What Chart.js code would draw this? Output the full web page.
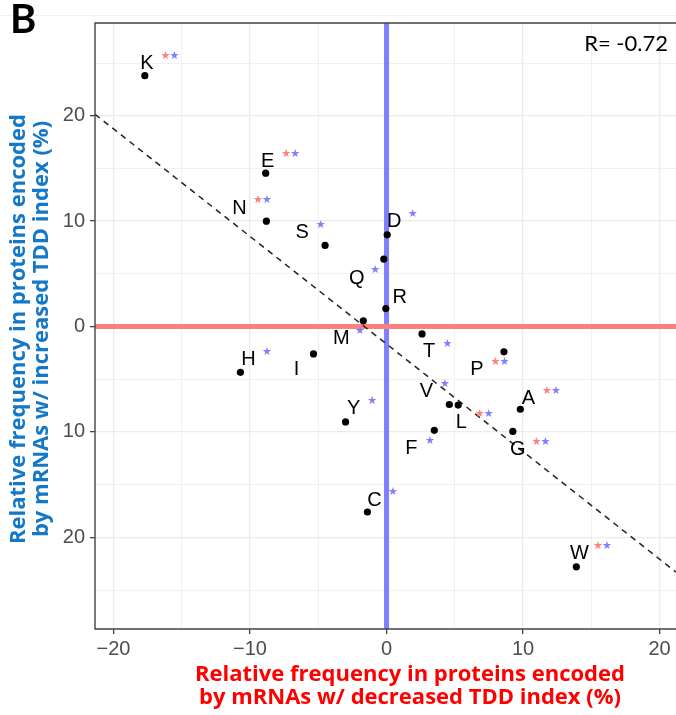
<!DOCTYPE html>
<html>
<head>
<meta charset="utf-8">
<script src="https://cdn.jsdelivr.net/npm/chart.js@4.4.1/dist/chart.umd.min.js"></script>
<style>
  html, body { margin: 0; padding: 0; background: #fff; }
  canvas { display: block; }
</style>
</head>
<body>
<canvas id="tddChart" width="676" height="715"></canvas>
<script>
// amino acids and their relative frequency changes (%)
const aminoAcids = ['K', 'E', 'N', 'S', 'D', 'Q', 'R', 'M', 'T', 'P', 'I', 'H', 'V', 'L', 'A', 'Y', 'F', 'G', 'C', 'W'];
const decreasedFreq = [-17.7, -8.85, -8.8, -4.5, 0.05, -0.2, -0.05, -1.7, 2.6, 8.6, -5.35, -10.7, 4.6, 5.25, 9.8, -3.0, 3.5, 9.25, -1.4, 13.9];
const increasedFreq = [23.8, 14.55, 10.0, 7.7, 8.7, 6.4, 1.7, 0.55, -0.7, -2.4, -2.6, -4.35, -7.4, -7.45, -7.85, -9.05, -9.85, -9.95, -17.6, -22.8];
const significance = ['**', '**', '**', '*', '*', '*', '', '*', '*', '**', '', '*', '*', '**', '**', '*', '*', '**', '*', '**'];

// fitted regression line (end points at the panel edges)
const fitX = [-21.35, 21.2];
const fitY = [20.14, -23.3];

const xTicks = [-20, -15, -10, -5, 0, 5, 10, 15, 20];
const yTicks = [-25, -20, -15, -10, -5, 0, 5, 10, 15, 20, 25];
const corrText = 'R= -0.72';

// label placement (pixels from the point), like ggrepel put them
const labelOffsets = [
  [2, -14], [2, -14], [-27, -15], [-23, -15], [7, -15], [-27, 17], [14, -13], [-22, 16], [7, 16], [-27, 16],
  [-17, 14], [8, -15], [-23, -15], [3, 15], [8, -13], [8, -15], [-23, 16], [5, 16], [7, -14], [3, -15]
];

const points = aminoAcids.map((a, i) => ({ x: decreasedFreq[i], y: increasedFreq[i] }));
const fitLine = fitX.map((v, i) => ({ x: v, y: fitY[i] }));

const tickFont = { family: 'Liberation Sans', size: 20 };
const fmt = v => (v < 0 ? '\u2212' + Math.abs(v) : String(v));

const decor = {
  id: 'decor',
  beforeDatasetsDraw(chart) {
    const { ctx, chartArea: a, scales: { x, y } } = chart;
    ctx.save();
    ctx.lineWidth = 5;
    const x0 = x.getPixelForValue(0);
    ctx.strokeStyle = '#7F7FFF';
    ctx.beginPath(); ctx.moveTo(x0, a.top); ctx.lineTo(x0, a.bottom); ctx.stroke();
    const y0 = y.getPixelForValue(0);
    ctx.strokeStyle = '#FF7F7F';
    ctx.beginPath(); ctx.moveTo(a.left, y0); ctx.lineTo(a.right, y0); ctx.stroke();
    ctx.restore();
  },
  afterDatasetsDraw(chart) {
    const { ctx, chartArea: a, scales: { x, y } } = chart;
    ctx.save();
    aminoAcids.forEach((aa, i) => {
      const px = x.getPixelForValue(decreasedFreq[i]) + labelOffsets[i][0];
      const py = y.getPixelForValue(increasedFreq[i]) + labelOffsets[i][1];
      ctx.font = '20px "Liberation Sans"';
      ctx.fillStyle = '#000';
      ctx.textAlign = 'center';
      ctx.textBaseline = 'alphabetic';
      ctx.fillText(aa, px, py + 7.5);
      // significance stars
      ctx.font = '11px "DejaVu Sans"';
      ctx.textBaseline = 'middle';
      if (significance[i] === '**') {
        ctx.fillStyle = '#FF8080';
        ctx.fillText('\u2605', px + 18.5, py - 5.5);
        ctx.fillStyle = '#8080FF';
        ctx.fillText('\u2605', px + 27.5, py - 5.5);
      } else if (significance[i] === '*') {
        ctx.fillStyle = '#8080FF';
        ctx.fillText('\u2605', px + 18.5, py - 5.5);
      }
    });
    // panel border (the right side is cut off in the figure)
    ctx.strokeStyle = '#444';
    ctx.lineWidth = 1.4;
    ctx.beginPath();
    ctx.moveTo(a.right, a.top);
    ctx.lineTo(a.left, a.top);
    ctx.lineTo(a.left, a.bottom);
    ctx.lineTo(a.right, a.bottom);
    ctx.stroke();
    ctx.restore();
  },
  afterDraw(chart) {
    const { ctx } = chart;
    ctx.save();
    // faint line at the very top
    ctx.strokeStyle = '#F2F2F2';
    ctx.lineWidth = 1;
    ctx.beginPath(); ctx.moveTo(0, 15.5); ctx.lineTo(676, 15.5); ctx.stroke();

    ctx.fillStyle = '#000';
    ctx.font = 'bold 40px Lato';
    ctx.textAlign = 'left';
    ctx.textBaseline = 'alphabetic';
    ctx.fillText('B', 10, 33);

    ctx.font = '22px Lato';
    ctx.textAlign = 'right';
    ctx.fillText(corrText, 668, 51);

    // x title
    ctx.fillStyle = '#FF0000';
    ctx.font = 'bold 22px "Open Sans"';
    ctx.textAlign = 'center';
    ctx.fillText('Relative frequency in proteins encoded', 410, 681);
    ctx.fillText('by mRNAs w/ decreased TDD index (%)', 410, 704);

    // y title
    ctx.fillStyle = '#1478C8';
    ctx.translate(0, 329);
    ctx.rotate(-Math.PI / 2);
    ctx.fillText('Relative frequency in proteins encoded', 0, 24.5);
    ctx.fillText('by mRNAs w/ increased TDD index (%)', 0, 47.5);
    ctx.restore();
  }
};

new Chart(document.getElementById('tddChart'), {
  type: 'scatter',
  data: {
    datasets: [{
      type: 'line',
      data: fitLine,
      borderColor: '#222',
      borderWidth: 1.5,
      borderDash: [6, 5],
      pointRadius: 0,
      order: 2
    }, {
      type: 'scatter',
      data: points,
      backgroundColor: '#000',
      borderWidth: 0,
      pointRadius: 3.6,
      order: 1
    }]
  },
  options: {
    responsive: false,
    animation: false,
    devicePixelRatio: 1,
    layout: { autoPadding: false, padding: { left: 0, top: 23, right: 0, bottom: 0 } },
    plugins: { legend: { display: false }, tooltip: { enabled: false } },
    scales: {
      x: {
        type: 'linear',
        min: -21.35,
        max: 21.2,
        afterBuildTicks: s => { s.ticks = xTicks.map(v => ({ value: v })); },
        afterFit: s => { s.height = 86; s.paddingLeft = 0; s.paddingRight = 0; },
        ticks: {
          autoSkip: false,
          maxRotation: 0,
          padding: 3,
          color: '#4D4D4D',
          font: tickFont,
          callback: v => (v % 10 === 0 ? fmt(v) : '')
        },
        grid: {
          color: '#EBEBEB',
          lineWidth: c => (c.tick && c.tick.value % 10 === 0 ? 1.3 : 0.7),
          tickColor: c => (c.tick && c.tick.value % 10 === 0 ? '#444' : 'rgba(0,0,0,0)'),
          tickLength: 5
        },
        border: { display: false }
      },
      y: {
        type: 'linear',
        min: -28.7,
        max: 28.8,
        afterBuildTicks: s => { s.ticks = yTicks.map(v => ({ value: v })); },
        afterFit: s => { s.width = 95; s.paddingTop = 0; s.paddingBottom = 0; },
        ticks: {
          autoSkip: false,
          padding: 5,
          color: '#4D4D4D',
          font: tickFont,
          callback: v => (v % 10 === 0 ? String(Math.abs(v)) : '')
        },
        grid: {
          color: '#EBEBEB',
          lineWidth: c => (c.tick && c.tick.value % 10 === 0 ? 1.3 : 0.7),
          tickColor: c => (c.tick && c.tick.value % 10 === 0 ? '#444' : 'rgba(0,0,0,0)'),
          tickLength: 5
        },
        border: { display: false }
      }
    }
  },
  plugins: [decor]
});
</script>
</body>
</html>
